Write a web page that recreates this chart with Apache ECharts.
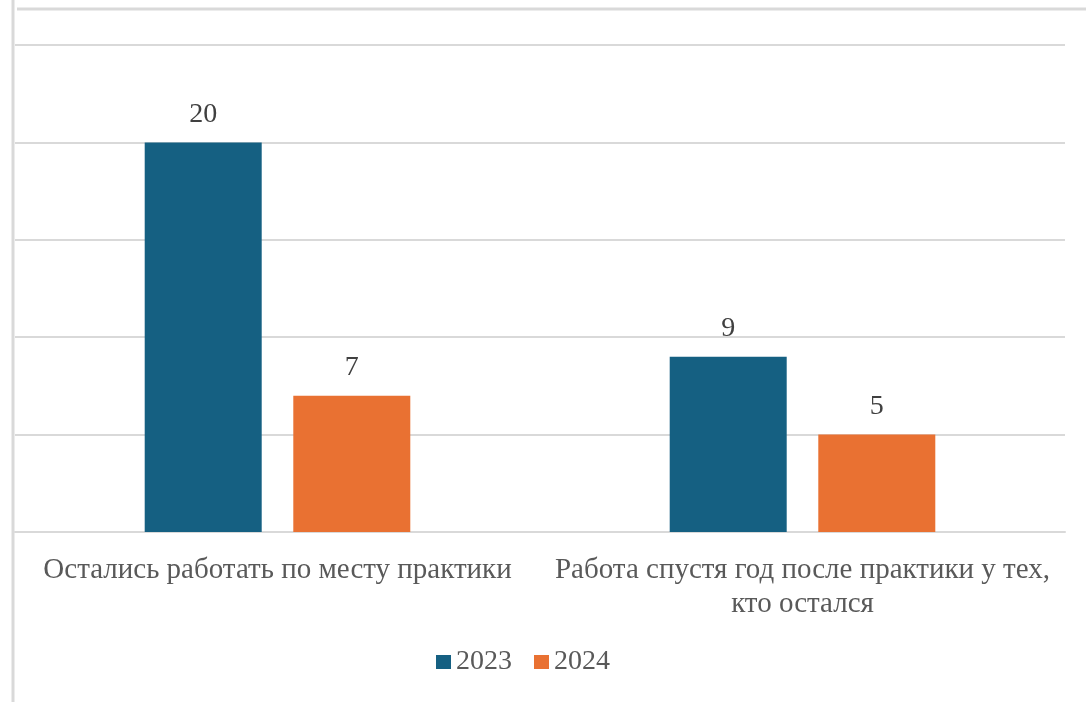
<!DOCTYPE html>
<html>
<head>
<meta charset="utf-8">
<script src="https://cdn.jsdelivr.net/npm/echarts@6/dist/echarts.min.js"></script>
<style>
  html, body { margin: 0; padding: 0; background: #fff; }
  #chart { width: 1086px; height: 702px; }
</style>
</head>
<body>
<div id="chart"></div>
<script>
const categories = ['Остались работать по месту практики', 'Работа спустя год после практики у тех, кто остался']
const years = ['2023', '2024']
const values2023 = [20, 9]
const values2024 = [7, 5]

const colors = ['#156082', '#E97132']
const serif = "'Liberation Serif', 'DejaVu Serif', serif"

const chart = echarts.init(document.getElementById('chart'))

const barLabel = {
  show: true,
  position: 'top',
  distance: 14,
  fontFamily: serif,
  fontSize: 28,
  color: '#404040'
}

const options = {
  backgroundColor: '#fff',
  animation: false,
  grid: {
    left: 15,
    right: 21,
    top: 45,
    bottom: 170
  },
  legend: {
    left: 436,
    top: 648,
    padding: 0,
    itemWidth: 15,
    itemHeight: 14,
    itemGap: 22,
    icon: 'rect',
    textStyle: { fontFamily: serif, fontSize: 28, color: '#595959' },
    data: years
  },
  xAxis: {
    type: 'category',
    data: categories,
    axisTick: { show: false },
    axisLine: { lineStyle: { color: '#d9d9d9', width: 2 } },
    axisLabel: {
      interval: 0,
      margin: 21,
      lineHeight: 34,
      fontFamily: serif,
      fontSize: 29,
      color: '#595959',
      // перенос длинной подписи после запятой, как в исходнике
      formatter: v => v.replace(', ', ',\n')
    }
  },
  yAxis: {
    type: 'value',
    min: 0,
    max: 25,
    interval: 5,
    axisLabel: { show: false },
    axisLine: { show: false },
    axisTick: { show: false },
    splitLine: { lineStyle: { color: '#d9d9d9', width: 2 } }
  },
  // рамка исходного скриншота
  graphic: [
    { type: 'line', shape: { x1: 13, y1: 0, x2: 13, y2: 702 }, style: { stroke: '#d9d9d9', lineWidth: 3 } },
    { type: 'line', shape: { x1: 17, y1: 9, x2: 1086, y2: 9 }, style: { stroke: '#d9d9d9', lineWidth: 3 } }
  ],
  series: [
    {
      name: years[0],
      type: 'bar',
      barWidth: 117,
      barGap: '27%',
      itemStyle: { color: colors[0] },
      label: barLabel,
      data: values2023
    },
    {
      name: years[1],
      type: 'bar',
      barWidth: 117,
      itemStyle: { color: colors[1] },
      label: barLabel,
      data: values2024
    }
  ]
}

chart.setOption(options)
</script>
</body>
</html>
